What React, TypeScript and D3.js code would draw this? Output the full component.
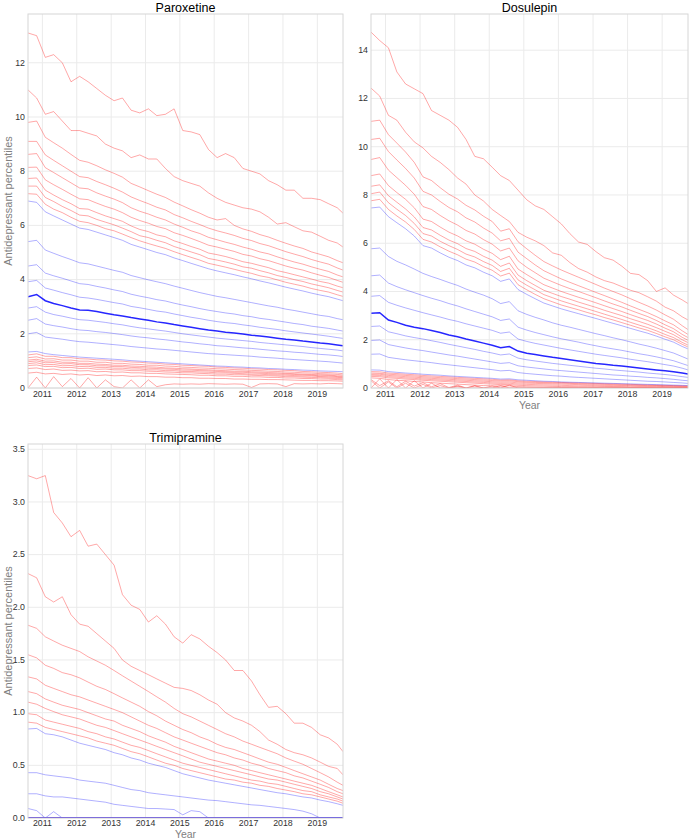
import React from 'react';
import * as d3 from 'd3';

// quarterly sample dates (Aug 2010 .. Oct 2019)
const months = [
  '2010-08', '2010-11', '2011-02', '2011-05', '2011-08', '2011-11', '2012-02', '2012-05', '2012-08', '2012-11',
  '2013-02', '2013-05', '2013-08', '2013-11', '2014-02', '2014-05', '2014-08', '2014-11', '2015-02', '2015-05',
  '2015-08', '2015-11', '2016-02', '2016-05', '2016-08', '2016-11', '2017-02', '2017-05', '2017-08', '2017-11',
  '2018-02', '2018-05', '2018-08', '2018-11', '2019-02', '2019-05', '2019-08', '2019-10',
];

// ---------- Paroxetine ----------
const parP99 = [13.1, 13.0, 12.2, 12.3, 12.0, 11.3, 11.5, 11.3, 11.05, 10.8, 10.6, 10.7, 10.25, 10.15, 10.3, 10.05, 10.1, 10.3, 9.5, 9.45, 9.35, 8.8, 8.5, 8.65, 8.5, 8.1, 8.0, 7.9, 7.65, 7.5, 7.3, 7.3, 7.0, 7.0, 6.95, 6.8, 6.65, 6.45];
const parP98 = [11.0, 10.7, 10.1, 10.2, 9.85, 9.5, 9.5, 9.4, 9.3, 9.0, 8.85, 8.75, 8.5, 8.6, 8.45, 8.45, 8.1, 7.8, 7.65, 7.55, 7.45, 7.2, 7.0, 6.85, 6.75, 6.65, 6.6, 6.5, 6.3, 6.05, 6.1, 5.95, 5.8, 5.75, 5.6, 5.45, 5.35, 5.2];
const parP97 = [9.8, 9.85, 9.25, 9.05, 8.85, 8.62, 8.4, 8.33, 8.2, 8.05, 7.92, 7.78, 7.55, 7.42, 7.28, 7.15, 7.03, 6.86, 6.72, 6.58, 6.45, 6.3, 6.2, 6.25, 6.0, 5.87, 5.78, 5.66, 5.57, 5.45, 5.34, 5.24, 5.15, 5.02, 4.93, 4.84, 4.7, 4.62];
const parP96 = [9.1, 9.1, 8.6, 8.4, 8.2, 8.0, 7.8, 7.76, 7.62, 7.5, 7.37, 7.23, 7.05, 6.92, 6.8, 6.67, 6.57, 6.4, 6.28, 6.15, 6.03, 5.9, 5.8, 5.72, 5.63, 5.52, 5.44, 5.33, 5.25, 5.14, 5.03, 4.94, 4.85, 4.74, 4.65, 4.57, 4.43, 4.35];
const parP95 = [8.62, 8.65, 8.13, 7.95, 7.76, 7.57, 7.38, 7.35, 7.2, 7.08, 6.97, 6.84, 6.65, 6.52, 6.42, 6.3, 6.2, 6.05, 5.93, 5.8, 5.7, 5.56, 5.47, 5.38, 5.3, 5.2, 5.12, 5.02, 4.95, 4.84, 4.74, 4.65, 4.57, 4.47, 4.38, 4.3, 4.17, 4.1];
const parP94 = [8.14, 8.15, 7.68, 7.5, 7.33, 7.15, 6.98, 6.95, 6.82, 6.7, 6.6, 6.47, 6.3, 6.18, 6.08, 5.96, 5.88, 5.73, 5.63, 5.52, 5.4, 5.27, 5.2, 5.12, 5.04, 4.93, 4.87, 4.77, 4.7, 4.6, 4.5, 4.42, 4.35, 4.25, 4.16, 4.08, 3.97, 3.9];
const parP93 = [7.73, 7.75, 7.3, 7.12, 6.95, 6.8, 6.62, 6.6, 6.47, 6.35, 6.25, 6.15, 5.98, 5.85, 5.77, 5.65, 5.58, 5.43, 5.33, 5.22, 5.12, 4.98, 4.92, 4.85, 4.76, 4.66, 4.6, 4.52, 4.44, 4.33, 4.26, 4.18, 4.1, 4.02, 3.93, 3.87, 3.76, 3.7];
const parP92 = [7.45, 7.45, 7.03, 6.88, 6.7, 6.55, 6.38, 6.35, 6.22, 6.12, 6.02, 5.9, 5.77, 5.62, 5.55, 5.45, 5.36, 5.22, 5.12, 5.02, 4.92, 4.78, 4.72, 4.65, 4.57, 4.47, 4.42, 4.33, 4.25, 4.15, 4.08, 4.0, 3.93, 3.84, 3.77, 3.7, 3.6, 3.54];
const parP91 = [7.17, 7.15, 6.78, 6.6, 6.47, 6.3, 6.15, 6.1, 6.0, 5.88, 5.8, 5.68, 5.55, 5.43, 5.33, 5.24, 5.15, 5.03, 4.92, 4.82, 4.72, 4.6, 4.53, 4.46, 4.38, 4.3, 4.23, 4.14, 4.08, 3.99, 3.9, 3.83, 3.76, 3.67, 3.6, 3.54, 3.44, 3.38];
const parP90 = [6.9, 6.85, 6.5, 6.35, 6.2, 6.05, 5.9, 5.85, 5.75, 5.65, 5.55, 5.45, 5.3, 5.2, 5.1, 5.0, 4.92, 4.8, 4.7, 4.6, 4.5, 4.4, 4.32, 4.25, 4.18, 4.1, 4.03, 3.95, 3.88, 3.8, 3.72, 3.65, 3.58, 3.5, 3.43, 3.37, 3.28, 3.22];
const parP80 = [5.4, 5.45, 5.09, 4.97, 4.85, 4.74, 4.62, 4.58, 4.5, 4.42, 4.34, 4.27, 4.15, 4.07, 3.99, 3.92, 3.85, 3.76, 3.68, 3.6, 3.52, 3.45, 3.38, 3.33, 3.27, 3.21, 3.15, 3.09, 3.03, 2.98, 2.91, 2.86, 2.8, 2.74, 2.68, 2.64, 2.56, 2.52];
const parP70 = [4.5, 4.55, 4.24, 4.14, 4.05, 3.95, 3.85, 3.82, 3.75, 3.69, 3.62, 3.56, 3.46, 3.39, 3.33, 3.26, 3.21, 3.13, 3.06, 3.0, 2.93, 2.87, 2.82, 2.77, 2.73, 2.67, 2.63, 2.57, 2.53, 2.48, 2.43, 2.38, 2.34, 2.28, 2.24, 2.2, 2.14, 2.1];
const parP60 = [3.92, 3.97, 3.69, 3.61, 3.52, 3.44, 3.35, 3.32, 3.27, 3.21, 3.15, 3.1, 3.01, 2.96, 2.9, 2.84, 2.8, 2.73, 2.67, 2.61, 2.56, 2.5, 2.45, 2.41, 2.38, 2.33, 2.29, 2.24, 2.2, 2.16, 2.11, 2.07, 2.03, 1.99, 1.95, 1.91, 1.86, 1.83];
const parP50 = [3.37, 3.45, 3.22, 3.12, 3.04, 2.95, 2.88, 2.87, 2.82, 2.76, 2.7, 2.66, 2.6, 2.55, 2.5, 2.44, 2.4, 2.34, 2.29, 2.24, 2.19, 2.14, 2.1, 2.06, 2.03, 1.99, 1.95, 1.92, 1.88, 1.84, 1.8, 1.77, 1.73, 1.7, 1.66, 1.63, 1.59, 1.56];
const parP40 = [2.95, 3.0, 2.8, 2.71, 2.65, 2.58, 2.52, 2.5, 2.46, 2.42, 2.37, 2.33, 2.27, 2.22, 2.18, 2.14, 2.1, 2.05, 2.0, 1.96, 1.92, 1.88, 1.84, 1.81, 1.78, 1.75, 1.72, 1.68, 1.65, 1.62, 1.59, 1.56, 1.53, 1.49, 1.46, 1.43, 1.4, 1.37];
const parP30 = [2.5, 2.56, 2.36, 2.3, 2.25, 2.19, 2.14, 2.12, 2.08, 2.05, 2.01, 1.97, 1.92, 1.88, 1.85, 1.81, 1.78, 1.74, 1.7, 1.67, 1.63, 1.6, 1.56, 1.54, 1.51, 1.48, 1.46, 1.43, 1.4, 1.37, 1.35, 1.32, 1.3, 1.27, 1.24, 1.22, 1.19, 1.16];
const parP20 = [2.0, 2.05, 1.88, 1.84, 1.8, 1.75, 1.71, 1.69, 1.66, 1.63, 1.6, 1.57, 1.53, 1.5, 1.47, 1.44, 1.42, 1.39, 1.36, 1.33, 1.3, 1.27, 1.25, 1.23, 1.21, 1.19, 1.17, 1.14, 1.12, 1.1, 1.07, 1.05, 1.03, 1.01, 0.99, 0.97, 0.94, 0.92];
const parP10 = [1.33, 1.35, 1.27, 1.23, 1.2, 1.17, 1.14, 1.12, 1.1, 1.08, 1.06, 1.04, 1.01, 0.99, 0.97, 0.95, 0.93, 0.91, 0.89, 0.87, 0.85, 0.83, 0.81, 0.8, 0.78, 0.77, 0.75, 0.74, 0.72, 0.71, 0.69, 0.68, 0.66, 0.65, 0.63, 0.62, 0.61, 0.6];
const parP9 = [1.22, 1.26, 1.17, 1.17, 1.12, 1.12, 1.08, 1.07, 1.04, 1.03, 1.0, 0.99, 0.96, 0.95, 0.92, 0.91, 0.88, 0.87, 0.84, 0.83, 0.81, 0.8, 0.77, 0.76, 0.74, 0.73, 0.71, 0.7, 0.68, 0.67, 0.65, 0.64, 0.61, 0.6, 0.58, 0.57, 0.55, 0.53];
const parP8 = [1.12, 1.15, 1.07, 1.08, 1.03, 1.03, 0.99, 0.99, 0.95, 0.95, 0.91, 0.91, 0.88, 0.87, 0.84, 0.84, 0.81, 0.8, 0.77, 0.76, 0.74, 0.73, 0.71, 0.7, 0.68, 0.67, 0.65, 0.64, 0.62, 0.61, 0.59, 0.58, 0.56, 0.55, 0.53, 0.52, 0.5, 0.48];
const parP7 = [1.03, 1.06, 0.99, 1.0, 0.95, 0.95, 0.91, 0.91, 0.88, 0.87, 0.84, 0.84, 0.81, 0.8, 0.78, 0.77, 0.74, 0.73, 0.71, 0.7, 0.68, 0.67, 0.65, 0.64, 0.62, 0.62, 0.6, 0.59, 0.57, 0.56, 0.54, 0.53, 0.51, 0.5, 0.49, 0.48, 0.45, 0.44];
const parP6 = [0.97, 1.0, 0.93, 0.94, 0.89, 0.9, 0.86, 0.86, 0.82, 0.82, 0.79, 0.79, 0.76, 0.75, 0.73, 0.72, 0.7, 0.69, 0.66, 0.66, 0.64, 0.63, 0.61, 0.6, 0.58, 0.58, 0.56, 0.55, 0.53, 0.52, 0.51, 0.5, 0.48, 0.47, 0.45, 0.45, 0.42, 0.41];
const parP5 = [0.9, 0.93, 0.86, 0.87, 0.82, 0.83, 0.79, 0.8, 0.76, 0.76, 0.73, 0.73, 0.7, 0.7, 0.67, 0.67, 0.64, 0.64, 0.61, 0.61, 0.59, 0.58, 0.56, 0.56, 0.54, 0.53, 0.51, 0.51, 0.49, 0.48, 0.47, 0.46, 0.44, 0.44, 0.42, 0.41, 0.39, 0.38];
const parP4 = [0.83, 0.85, 0.79, 0.8, 0.75, 0.76, 0.72, 0.73, 0.69, 0.7, 0.67, 0.67, 0.64, 0.64, 0.62, 0.61, 0.59, 0.58, 0.56, 0.56, 0.54, 0.53, 0.51, 0.51, 0.49, 0.49, 0.47, 0.46, 0.45, 0.44, 0.42, 0.42, 0.4, 0.39, 0.38, 0.37, 0.35, 0.34];
const parP3 = [0.72, 0.74, 0.68, 0.7, 0.65, 0.66, 0.63, 0.64, 0.6, 0.61, 0.58, 0.59, 0.56, 0.56, 0.54, 0.54, 0.52, 0.51, 0.5, 0.49, 0.47, 0.47, 0.45, 0.45, 0.43, 0.43, 0.41, 0.41, 0.39, 0.39, 0.37, 0.37, 0.35, 0.35, 0.33, 0.33, 0.31, 0.3];
const parP2 = [0.55, 0.58, 0.52, 0.54, 0.5, 0.52, 0.48, 0.5, 0.46, 0.48, 0.45, 0.46, 0.43, 0.44, 0.42, 0.42, 0.4, 0.4, 0.38, 0.38, 0.36, 0.36, 0.35, 0.35, 0.33, 0.33, 0.32, 0.32, 0.31, 0.31, 0.3, 0.29, 0.28, 0.28, 0.27, 0.27, 0.26, 0.25];
const parP1 = [0.0, 0.4, 0.0, 0.42, 0.05, 0.35, 0.0, 0.38, 0.0, 0.3, 0.05, 0.0, 0.3, 0.0, 0.3, 0.05, 0.12, 0.15, 0.14, 0.15, 0.14, 0.16, 0.15, 0.14, 0.15, 0.14, 0.02, 0.15, 0.16, 0.15, 0.05, 0.16, 0.15, 0.16, 0.15, 0.17, 0.16, 0.15];

// ---------- Dosulepin ----------
const dosP99 = [14.75, 14.4, 14.1, 13.1, 12.6, 12.4, 12.2, 11.5, 11.3, 11.1, 10.8, 10.3, 9.6, 9.5, 9.15, 8.8, 8.6, 8.2, 7.8, 7.55, 7.4, 7.1, 6.8, 6.4, 6.05, 5.95, 5.65, 5.4, 5.3, 5.05, 4.75, 4.7, 4.45, 4.0, 4.15, 3.85, 3.65, 3.5];
const dosP98 = [12.43, 12.1, 11.3, 11.1, 10.6, 10.2, 9.95, 9.6, 9.35, 9.05, 8.7, 8.45, 8.0, 7.75, 7.4, 7.15, 6.9, 6.45, 6.25, 6.1, 5.9, 5.6, 5.5, 5.2, 4.95, 4.8, 4.6, 4.45, 4.35, 4.2, 4.05, 3.95, 3.78, 3.6, 3.35, 3.2, 2.95, 2.82];
const dosP97 = [11.05, 11.1, 10.5, 10.15, 9.78, 9.35, 8.75, 8.6, 8.3, 8.03, 7.83, 7.57, 7.38, 7.12, 6.9, 6.5, 6.6, 6.06, 5.77, 5.5, 5.24, 5.06, 4.89, 4.74, 4.59, 4.44, 4.29, 4.14, 4.0, 3.86, 3.7, 3.55, 3.4, 3.23, 3.03, 2.85, 2.58, 2.42];
const dosP96 = [10.3, 10.35, 9.8, 9.45, 9.1, 8.7, 8.15, 8.0, 7.73, 7.48, 7.3, 7.05, 6.88, 6.63, 6.42, 6.1, 6.2, 5.63, 5.36, 5.1, 4.86, 4.69, 4.52, 4.38, 4.24, 4.1, 3.96, 3.83, 3.69, 3.55, 3.4, 3.26, 3.12, 2.96, 2.78, 2.62, 2.37, 2.22];
const dosP95 = [9.47, 9.55, 9.03, 8.72, 8.4, 8.03, 7.52, 7.4, 7.15, 6.93, 6.75, 6.53, 6.38, 6.15, 5.96, 5.68, 5.8, 5.27, 5.0, 4.78, 4.55, 4.4, 4.25, 4.12, 4.0, 3.87, 3.74, 3.61, 3.48, 3.36, 3.22, 3.09, 2.96, 2.8, 2.62, 2.46, 2.22, 2.09];
const dosP94 = [8.8, 8.87, 8.39, 8.1, 7.82, 7.47, 7.0, 6.9, 6.67, 6.46, 6.3, 6.1, 5.96, 5.75, 5.58, 5.32, 5.46, 4.93, 4.7, 4.49, 4.28, 4.14, 4.0, 3.88, 3.76, 3.65, 3.53, 3.41, 3.29, 3.17, 3.04, 2.92, 2.8, 2.65, 2.48, 2.33, 2.1, 1.98];
const dosP93 = [8.36, 8.42, 7.97, 7.7, 7.42, 7.09, 6.65, 6.55, 6.33, 6.13, 5.98, 5.78, 5.66, 5.46, 5.3, 5.04, 5.18, 4.68, 4.45, 4.25, 4.05, 3.92, 3.79, 3.68, 3.56, 3.45, 3.34, 3.22, 3.11, 3.0, 2.87, 2.76, 2.64, 2.5, 2.35, 2.21, 2.0, 1.88];
const dosP92 = [8.05, 8.12, 7.68, 7.41, 7.15, 6.82, 6.4, 6.3, 6.08, 5.9, 5.74, 5.55, 5.43, 5.24, 5.08, 4.83, 4.96, 4.48, 4.26, 4.07, 3.87, 3.74, 3.61, 3.5, 3.39, 3.28, 3.17, 3.06, 2.95, 2.84, 2.72, 2.61, 2.5, 2.37, 2.22, 2.09, 1.89, 1.78];
const dosP91 = [7.76, 7.82, 7.4, 7.13, 6.88, 6.57, 6.16, 6.05, 5.85, 5.67, 5.52, 5.34, 5.22, 5.03, 4.88, 4.64, 4.76, 4.28, 4.07, 3.88, 3.7, 3.57, 3.44, 3.34, 3.24, 3.13, 3.03, 2.92, 2.82, 2.71, 2.6, 2.49, 2.39, 2.26, 2.12, 2.0, 1.81, 1.7];
const dosP90 = [7.46, 7.5, 7.1, 6.85, 6.6, 6.3, 5.9, 5.8, 5.6, 5.42, 5.28, 5.1, 4.98, 4.8, 4.65, 4.42, 4.52, 4.08, 3.88, 3.7, 3.52, 3.4, 3.28, 3.18, 3.08, 2.98, 2.88, 2.78, 2.68, 2.58, 2.47, 2.37, 2.27, 2.15, 2.02, 1.9, 1.72, 1.62];
const dosP80 = [5.77, 5.8, 5.45, 5.25, 5.1, 4.93, 4.75, 4.62, 4.5, 4.37, 4.25, 4.1, 3.97, 3.85, 3.7, 3.5, 3.58, 3.2, 3.05, 2.93, 2.82, 2.7, 2.6, 2.52, 2.43, 2.34, 2.25, 2.17, 2.08, 2.0, 1.91, 1.82, 1.74, 1.65, 1.55, 1.45, 1.3, 1.2];
const dosP70 = [4.65, 4.68, 4.35, 4.2, 4.07, 3.95, 3.83, 3.72, 3.62, 3.5, 3.4, 3.28, 3.17, 3.06, 2.95, 2.8, 2.86, 2.52, 2.4, 2.3, 2.21, 2.12, 2.04, 1.97, 1.9, 1.82, 1.75, 1.68, 1.62, 1.56, 1.49, 1.42, 1.36, 1.29, 1.21, 1.13, 1.01, 0.93];
const dosP60 = [3.8, 3.83, 3.55, 3.43, 3.32, 3.22, 3.12, 3.03, 2.94, 2.84, 2.76, 2.66, 2.57, 2.48, 2.39, 2.27, 2.32, 2.03, 1.93, 1.85, 1.78, 1.71, 1.64, 1.58, 1.52, 1.46, 1.4, 1.35, 1.3, 1.25, 1.19, 1.14, 1.09, 1.03, 0.97, 0.91, 0.82, 0.75];
const dosP50 = [3.1, 3.12, 2.82, 2.72, 2.6, 2.52, 2.46, 2.38, 2.3, 2.2, 2.12, 2.03, 1.95, 1.86, 1.77, 1.67, 1.72, 1.53, 1.44, 1.39, 1.33, 1.27, 1.22, 1.17, 1.12, 1.07, 1.02, 0.98, 0.94, 0.91, 0.87, 0.83, 0.79, 0.75, 0.71, 0.67, 0.62, 0.58];
const dosP40 = [2.55, 2.57, 2.33, 2.25, 2.16, 2.09, 2.03, 1.96, 1.89, 1.81, 1.74, 1.67, 1.6, 1.52, 1.45, 1.37, 1.41, 1.24, 1.17, 1.12, 1.07, 1.02, 0.98, 0.94, 0.9, 0.86, 0.82, 0.79, 0.75, 0.72, 0.69, 0.66, 0.62, 0.59, 0.56, 0.52, 0.47, 0.44];
const dosP30 = [1.97, 1.99, 1.8, 1.73, 1.66, 1.6, 1.55, 1.49, 1.43, 1.37, 1.32, 1.26, 1.2, 1.14, 1.08, 1.02, 1.05, 0.92, 0.87, 0.83, 0.79, 0.75, 0.72, 0.69, 0.66, 0.63, 0.6, 0.57, 0.54, 0.52, 0.49, 0.47, 0.44, 0.42, 0.39, 0.36, 0.32, 0.3];
const dosP20 = [1.4, 1.41, 1.27, 1.22, 1.17, 1.13, 1.09, 1.05, 1.0, 0.96, 0.92, 0.88, 0.84, 0.8, 0.76, 0.71, 0.73, 0.64, 0.6, 0.57, 0.54, 0.51, 0.49, 0.46, 0.44, 0.42, 0.4, 0.38, 0.36, 0.34, 0.32, 0.3, 0.28, 0.27, 0.25, 0.23, 0.21, 0.19];
const dosP10 = [0.75, 0.74, 0.68, 0.65, 0.62, 0.6, 0.57, 0.55, 0.53, 0.5, 0.48, 0.46, 0.44, 0.42, 0.4, 0.37, 0.38, 0.34, 0.32, 0.3, 0.28, 0.27, 0.25, 0.24, 0.23, 0.22, 0.21, 0.2, 0.19, 0.18, 0.17, 0.16, 0.15, 0.14, 0.13, 0.12, 0.11, 0.1];
const dosP9 = [0.68, 0.67, 0.62, 0.6, 0.57, 0.55, 0.52, 0.5, 0.48, 0.46, 0.44, 0.42, 0.4, 0.38, 0.36, 0.33, 0.34, 0.3, 0.28, 0.27, 0.25, 0.24, 0.23, 0.22, 0.21, 0.2, 0.19, 0.18, 0.17, 0.16, 0.15, 0.14, 0.13, 0.12, 0.11, 0.1, 0.09, 0.08];
const dosP8 = [0.62, 0.61, 0.57, 0.55, 0.52, 0.5, 0.47, 0.45, 0.43, 0.41, 0.39, 0.37, 0.35, 0.33, 0.31, 0.29, 0.3, 0.26, 0.24, 0.23, 0.22, 0.21, 0.2, 0.19, 0.18, 0.17, 0.16, 0.15, 0.14, 0.13, 0.12, 0.11, 0.1, 0.1, 0.09, 0.08, 0.07, 0.07];
const dosP7 = [0.57, 0.57, 0.52, 0.5, 0.47, 0.45, 0.42, 0.4, 0.38, 0.36, 0.34, 0.32, 0.3, 0.28, 0.26, 0.24, 0.25, 0.21, 0.2, 0.19, 0.18, 0.17, 0.16, 0.15, 0.14, 0.13, 0.12, 0.11, 0.1, 0.1, 0.09, 0.08, 0.07, 0.07, 0.06, 0.05, 0.05, 0.04];
const dosP6 = [0.53, 0.52, 0.47, 0.45, 0.42, 0.4, 0.37, 0.35, 0.33, 0.31, 0.29, 0.27, 0.25, 0.23, 0.21, 0.19, 0.2, 0.16, 0.15, 0.14, 0.13, 0.12, 0.11, 0.1, 0.09, 0.09, 0.08, 0.07, 0.06, 0.06, 0.05, 0.05, 0.04, 0.04, 0.03, 0.03, 0.02, 0.02];
const dosP5 = [0.48, 0.47, 0.42, 0.4, 0.37, 0.35, 0.32, 0.3, 0.28, 0.26, 0.24, 0.22, 0.2, 0.18, 0.16, 0.14, 0.15, 0.11, 0.1, 0.09, 0.08, 0.07, 0.06, 0.06, 0.05, 0.05, 0.04, 0.04, 0.03, 0.03, 0.02, 0.02, 0.02, 0.01, 0.01, 0.01, 0.01, 0.0];
const dosP4 = [0.42, 0.4, 0.35, 0.32, 0.3, 0.27, 0.25, 0.22, 0.2, 0.18, 0.16, 0.14, 0.12, 0.1, 0.09, 0.08, 0.09, 0.06, 0.05, 0.04, 0.03, 0.03, 0.02, 0.02, 0.01, 0.01, 0.01, 0, 0, 0, 0, 0, 0, 0, 0, 0, 0, 0];
const dosP3 = [0.35, 0.1, 0.3, 0.05, 0.28, 0.08, 0.22, 0.05, 0.18, 0.02, 0.12, 0, 0.1, 0, 0.08, 0, 0.12, 0, 0, 0, 0, 0, 0, 0, 0, 0, 0, 0, 0, 0, 0, 0, 0, 0, 0, 0, 0, 0];
const dosP2 = [0.3, 0, 0.25, 0, 0.2, 0, 0.15, 0, 0.1, 0, 0.05, 0, 0.08, 0, 0, 0.1, 0, 0, 0, 0, 0, 0, 0, 0, 0, 0, 0, 0, 0, 0, 0, 0, 0, 0, 0, 0, 0, 0];
const dosP1 = [0, 0.38, 0, 0.35, 0, 0.3, 0, 0.2, 0, 0, 0.08, 0, 0, 0, 0, 0, 0, 0, 0, 0, 0, 0, 0, 0, 0, 0, 0, 0, 0, 0, 0, 0, 0, 0, 0, 0, 0, 0];

// ---------- Trimipramine ----------
const triP99 = [3.25, 3.22, 3.25, 2.9, 2.8, 2.67, 2.73, 2.58, 2.6, 2.5, 2.4, 2.12, 2.02, 1.98, 1.86, 1.92, 1.84, 1.72, 1.66, 1.74, 1.7, 1.63, 1.57, 1.5, 1.4, 1.4, 1.3, 1.17, 1.05, 1.06, 0.99, 0.9, 0.9, 0.86, 0.79, 0.76, 0.7, 0.63];
const triP98 = [2.32, 2.28, 2.1, 2.05, 2.1, 1.93, 1.84, 1.82, 1.75, 1.68, 1.61, 1.5, 1.44, 1.4, 1.36, 1.32, 1.28, 1.24, 1.23, 1.21, 1.17, 1.12, 1.08, 1.0, 0.95, 0.92, 0.88, 0.82, 0.74, 0.7, 0.65, 0.62, 0.6, 0.57, 0.53, 0.49, 0.47, 0.41];
const triP97 = [1.83, 1.8, 1.72, 1.68, 1.64, 1.61, 1.58, 1.53, 1.49, 1.45, 1.4, 1.35, 1.3, 1.25, 1.2, 1.15, 1.1, 1.04, 0.99, 0.96, 0.92, 0.88, 0.84, 0.8, 0.77, 0.73, 0.7, 0.67, 0.64, 0.61, 0.57, 0.54, 0.51, 0.47, 0.43, 0.39, 0.34, 0.31];
const triP96 = [1.55, 1.52, 1.45, 1.42, 1.38, 1.36, 1.33, 1.29, 1.25, 1.22, 1.18, 1.14, 1.1, 1.06, 1.01, 0.97, 0.92, 0.88, 0.84, 0.81, 0.77, 0.74, 0.7, 0.67, 0.65, 0.62, 0.59, 0.56, 0.53, 0.51, 0.48, 0.45, 0.42, 0.39, 0.36, 0.32, 0.28, 0.26];
const triP95 = [1.34, 1.32, 1.26, 1.23, 1.2, 1.17, 1.15, 1.12, 1.09, 1.06, 1.03, 1.0, 0.96, 0.92, 0.88, 0.85, 0.81, 0.77, 0.74, 0.71, 0.68, 0.65, 0.62, 0.6, 0.57, 0.55, 0.52, 0.5, 0.47, 0.45, 0.43, 0.4, 0.38, 0.35, 0.32, 0.29, 0.25, 0.23];
const triP94 = [1.2, 1.18, 1.13, 1.1, 1.07, 1.05, 1.03, 1.0, 0.97, 0.94, 0.92, 0.88, 0.85, 0.82, 0.78, 0.75, 0.72, 0.68, 0.65, 0.62, 0.59, 0.56, 0.54, 0.52, 0.5, 0.47, 0.45, 0.43, 0.41, 0.39, 0.37, 0.35, 0.33, 0.31, 0.28, 0.25, 0.22, 0.2];
const triP93 = [1.1, 1.08, 1.04, 1.01, 0.98, 0.96, 0.94, 0.91, 0.88, 0.86, 0.83, 0.8, 0.77, 0.74, 0.71, 0.68, 0.65, 0.62, 0.59, 0.56, 0.53, 0.51, 0.49, 0.47, 0.45, 0.43, 0.41, 0.39, 0.37, 0.36, 0.34, 0.32, 0.3, 0.28, 0.25, 0.23, 0.2, 0.18];
const triP92 = [0.99, 0.98, 0.93, 0.91, 0.89, 0.87, 0.85, 0.82, 0.8, 0.77, 0.75, 0.72, 0.69, 0.67, 0.64, 0.61, 0.58, 0.55, 0.52, 0.5, 0.48, 0.46, 0.44, 0.42, 0.4, 0.38, 0.36, 0.35, 0.33, 0.32, 0.3, 0.28, 0.26, 0.25, 0.22, 0.2, 0.18, 0.16];
const triP91 = [0.91, 0.9, 0.86, 0.84, 0.82, 0.8, 0.78, 0.76, 0.73, 0.71, 0.69, 0.66, 0.63, 0.61, 0.58, 0.55, 0.52, 0.5, 0.47, 0.45, 0.43, 0.41, 0.39, 0.37, 0.36, 0.34, 0.33, 0.31, 0.3, 0.28, 0.265, 0.25, 0.23, 0.22, 0.2, 0.18, 0.16, 0.14];
const triP90 = [0.845, 0.85, 0.8, 0.79, 0.77, 0.74, 0.71, 0.69, 0.67, 0.65, 0.62, 0.6, 0.57, 0.55, 0.52, 0.5, 0.48, 0.45, 0.42, 0.4, 0.38, 0.36, 0.345, 0.33, 0.315, 0.3, 0.285, 0.27, 0.255, 0.24, 0.23, 0.215, 0.2, 0.19, 0.17, 0.155, 0.135, 0.12];
const triP80 = [0.43, 0.43, 0.41, 0.4, 0.39, 0.38, 0.36, 0.35, 0.34, 0.33, 0.31, 0.29, 0.27, 0.26, 0.24, 0.23, 0.22, 0.21, 0.2, 0.19, 0.18, 0.17, 0.165, 0.155, 0.145, 0.135, 0.125, 0.12, 0.11, 0.1, 0.09, 0.08, 0.065, 0.04, 0, 0, 0, 0];
const triP70 = [0.23, 0.23, 0.21, 0.2, 0.2, 0.19, 0.18, 0.17, 0.16, 0.15, 0.13, 0.12, 0.11, 0.1, 0.09, 0.09, 0.085, 0.08, 0.03, 0.07, 0.06, 0, 0, 0, 0, 0, 0, 0, 0, 0, 0, 0, 0, 0, 0, 0, 0, 0];
const triP60 = [0.09, 0.07, 0, 0.06, 0, 0, 0, 0, 0, 0, 0, 0, 0, 0, 0, 0, 0, 0, 0, 0, 0, 0, 0, 0, 0, 0, 0, 0, 0, 0, 0, 0, 0, 0, 0, 0, 0, 0];
// median and everything below it sit on zero
const triZero = [0, 0, 0, 0, 0, 0, 0, 0, 0, 0, 0, 0, 0, 0, 0, 0, 0, 0, 0, 0, 0, 0, 0, 0, 0, 0, 0, 0, 0, 0, 0, 0, 0, 0, 0, 0, 0, 0];

const parTicks = [0, 2, 4, 6, 8, 10, 12];
const dosTicks = [0, 2, 4, 6, 8, 10, 12, 14];
const triTicks = [0, 0.5, 1, 1.5, 2, 2.5, 3, 3.5];

const FONT = '"Liberation Sans", Arial, Helvetica, sans-serif';
const dates = months.map((m) => d3.timeParse('%Y-%m')(m) as Date);
const yearTicks = d3.timeYear.range(new Date(2011, 0, 1), new Date(2019, 11, 31));

interface PanelSpec {
  id: string;
  title: string;
  left: number;
  right: number;
  top: number;
  bottom: number;
  yMax: number;
  ticks: number[];
  fmt: (v: number) => string;
  yLabel: boolean;
  xLabelY: number | null;
  xTickDy: number;
  extremes: number[][];
  deciles: number[][];
  median: number[];
}

const panels: PanelSpec[] = [
  {
    id: 'par', title: 'Paroxetine', left: 28, right: 343, top: 14, bottom: 388, yMax: 13.8,
    ticks: parTicks, fmt: d3.format('d'), yLabel: true, xLabelY: null, xTickDy: 9,
    extremes: [parP1, parP2, parP3, parP4, parP5, parP6, parP7, parP8, parP9,
      parP91, parP92, parP93, parP94, parP95, parP96, parP97, parP98, parP99],
    deciles: [parP10, parP20, parP30, parP40, parP60, parP70, parP80, parP90],
    median: parP50,
  },
  {
    id: 'dos', title: 'Dosulepin', left: 371, right: 688, top: 14, bottom: 388, yMax: 15.5,
    ticks: dosTicks, fmt: d3.format('d'), yLabel: false, xLabelY: 409, xTickDy: 9,
    extremes: [dosP1, dosP2, dosP3, dosP4, dosP5, dosP6, dosP7, dosP8, dosP9,
      dosP91, dosP92, dosP93, dosP94, dosP95, dosP96, dosP97, dosP98, dosP99],
    deciles: [dosP10, dosP20, dosP30, dosP40, dosP60, dosP70, dosP80, dosP90],
    median: dosP50,
  },
  {
    id: 'tri', title: 'Trimipramine', left: 28, right: 343, top: 444, bottom: 818, yMax: 3.55,
    ticks: triTicks, fmt: d3.format('.1f'), yLabel: true, xLabelY: 837.6, xTickDy: 8,
    extremes: [triZero, triZero, triZero, triZero, triZero, triZero, triZero, triZero, triZero,
      triP91, triP92, triP93, triP94, triP95, triP96, triP97, triP98, triP99],
    deciles: [triZero, triZero, triZero, triZero, triP60, triP70, triP80, triP90],
    median: triZero,
  },
];

const Panel: React.FC<{ p: PanelSpec }> = ({ p }) => {
  const x = d3.scaleTime().domain([dates[0], dates[dates.length - 1]]).range([p.left, p.right]);
  const y = d3.scaleLinear().domain([0, p.yMax]).range([p.bottom, p.top]);
  const line = d3
    .line<number>()
    .x((_, i) => x(dates[i]))
    .y((v) => y(v));
  const cx = (p.left + p.right) / 2;
  const cy = (p.top + p.bottom) / 2;
  const clipId = `clip-${p.id}`;

  return (
    <g>
      <defs>
        <clipPath id={clipId}>
          <rect x={p.left} y={p.top} width={p.right - p.left} height={p.bottom - p.top} />
        </clipPath>
      </defs>
      <rect x={p.left} y={p.top} width={p.right - p.left} height={p.bottom - p.top} fill="#fff" />
      {p.ticks.map((t) => (
        <line key={`h${t}`} x1={p.left} x2={p.right} y1={y(t)} y2={y(t)} stroke="#ebebeb" strokeWidth={1} />
      ))}
      {yearTicks.map((d) => (
        <line key={`v${d.getFullYear()}`} x1={x(d)} x2={x(d)} y1={p.top} y2={p.bottom} stroke="#ebebeb" strokeWidth={1} />
      ))}
      <g clipPath={`url(#${clipId})`} fill="none">
        {p.extremes.map((s, i) => (
          <path key={`r${i}`} d={line(s) ?? ''} stroke="#ff0000" strokeOpacity={0.38} strokeWidth={0.9} />
        ))}
        {p.deciles.map((s, i) => (
          <path key={`b${i}`} d={line(s) ?? ''} stroke="#0000ff" strokeOpacity={0.35} strokeWidth={0.9} />
        ))}
        <path d={line(p.median) ?? ''} stroke="#0000ff" strokeOpacity={0.85} strokeWidth={1.5} />
      </g>
      <rect x={p.left} y={p.top} width={p.right - p.left} height={p.bottom - p.top} fill="none" stroke="#d6d6d6" strokeWidth={1} />
      {p.ticks.map((t) => (
        <text key={`yt${t}`} x={p.left - 3} y={y(t)} dy="0.32em" textAnchor="end" fontSize={8.8} fill="#333" fontFamily={FONT}>
          {p.fmt(t)}
        </text>
      ))}
      {yearTicks.map((d) => (
        <text key={`xt${d.getFullYear()}`} x={x(d)} y={p.bottom + p.xTickDy} textAnchor="middle" fontSize={8.8} fill="#333" fontFamily={FONT}>
          {d3.timeFormat('%Y')(d)}
        </text>
      ))}
      <text x={cx} y={p.top - 2} textAnchor="middle" fontSize={12.5} fill="#000" fontFamily={FONT}>
        {p.title}
      </text>
      {p.yLabel && (
        <text transform={`translate(12,${cy}) rotate(-90)`} textAnchor="middle" fontSize={11} fill="#808080" fontFamily={FONT}>
          Antidepressant percentiles
        </text>
      )}
      {p.xLabelY !== null && (
        <text x={cx} y={p.xLabelY} textAnchor="middle" fontSize={10.5} fill="#808080" fontFamily={FONT}>
          Year
        </text>
      )}
    </g>
  );
};

export default function App() {
  return (
    <svg width={689} height={840} style={{ position: 'absolute', left: 0, top: 0, background: '#fff' }}>
      {panels.map((p) => (
        <Panel key={p.id} p={p} />
      ))}
    </svg>
  );
}
